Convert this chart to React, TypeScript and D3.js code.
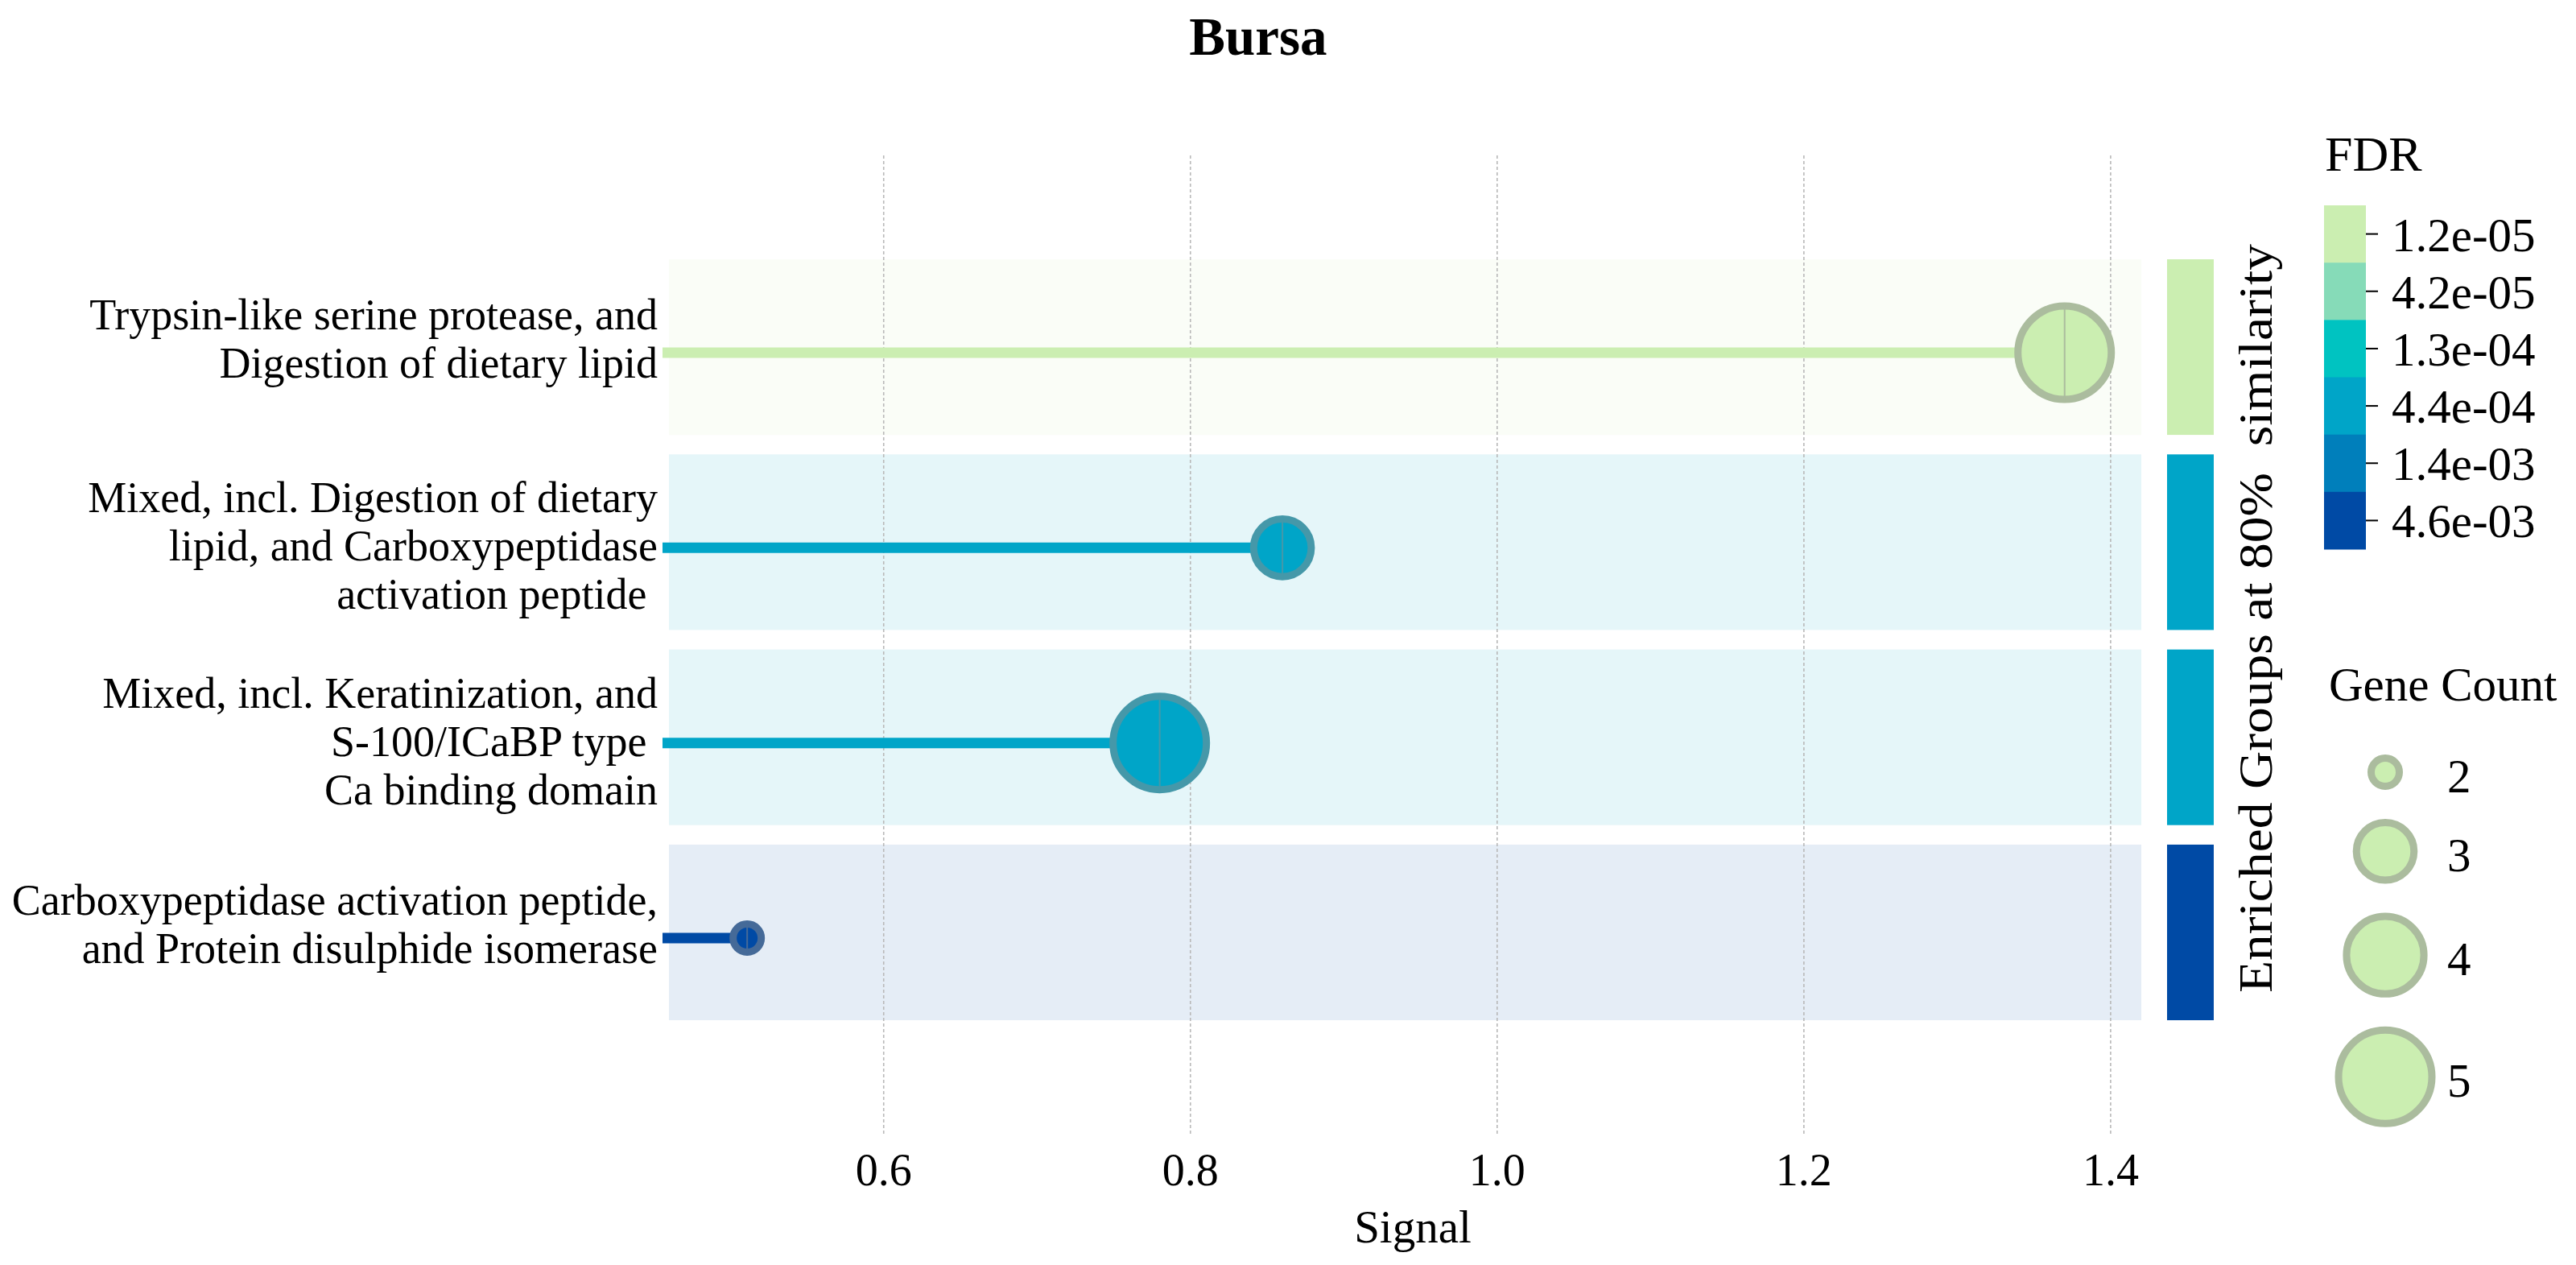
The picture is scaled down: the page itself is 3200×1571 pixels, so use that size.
import React from "react";
import * as d3 from "d3";

// ---- data ----
const labelLines: string[][] = [
  ["Trypsin-like serine protease, and", "Digestion of dietary lipid"],
  ["Mixed, incl. Digestion of dietary", "lipid, and Carboxypeptidase", "activation peptide "],
  ["Mixed, incl. Keratinization, and", "S-100/ICaBP type ", "Ca binding domain"],
  ["Carboxypeptidase activation peptide,", "and Protein disulphide isomerase"],
];
const signal = [1.37, 0.86, 0.78, 0.511];
const geneCount = [5, 3, 5, 2];
const fdrGroup = ["1.2e-05", "4.4e-04", "4.4e-04", "4.6e-03"];

const fdrTicks = ["1.2e-05", "4.2e-05", "1.3e-04", "4.4e-04", "1.4e-03", "4.6e-03"];
const fdrColors = ["#cbeeb1", "#86dbb8", "#00c3c1", "#00a5c8", "#007fbb", "#004aa5"];
const xTicks = [0.6, 0.8, 1.0, 1.2, 1.4];
const sizeLegend = [2, 3, 4, 5];

const title = "Bursa";
const xTitle = "Signal";
const sideTitle = "Enriched Groups at 80%  similarity";

const FONT = "'Liberation Serif', 'Times New Roman', Times, serif";

export default function App() {
  const W = 3200, H = 1571;
  const x = d3.scaleLinear().domain([0.46, 1.42]).range([831, 2660]);
  const y = d3.scaleBand<number>().domain(d3.range(labelLines.length)).range([322, 1267]).paddingInner(0.1).paddingOuter(0);
  const color = d3.scaleOrdinal<string, string>(fdrTicks, fdrColors);
  const rArea = d3.scaleLinear().domain([2, 5]).range([22 * 22, 62.5 * 62.5]);
  const SW = 9;
  const rOuter = (n: number) => Math.sqrt(rArea(n));
  const ring = (c: string) => d3.interpolateRgb(c, "#8a8a8a")(0.5);
  const fmt = d3.format(".1f");
  const yC = d3.scaleBand<string>().domain(fdrTicks).range([255, 682]);

  const stemY = (i: number) => (y(i) as number) + y.bandwidth() / 2 + 7;
  const gridTop = 193, gridBottom = 1408;

  // legend circle centers
  const legendCenters: number[] = [];
  let acc = 959;
  sizeLegend.forEach((n, i) => {
    if (i === 0) acc = 959;
    else acc = acc + rOuter(sizeLegend[i - 1]) + 36 + rOuter(n);
    legendCenters.push(acc);
  });

  return (
    <svg width={W} height={H} style={{ position: "absolute", left: 0, top: 0, background: "#fff" }} fontFamily={FONT}>
      <rect x={0} y={0} width={W} height={H} fill="#fff" />
      {/* title */}
      <text x={1563} y={68} textAnchor="middle" fontSize={67} fontWeight="bold" fill="#000">{title}</text>

      {/* row backgrounds */}
      {labelLines.map((_, i) => (
        <rect key={"bg" + i} x={x.range()[0]} y={y(i)} width={x.range()[1] - x.range()[0]} height={y.bandwidth()}
          fill={color(fdrGroup[i])} fillOpacity={0.1} />
      ))}

      {/* gridlines */}
      {xTicks.map((t) => (
        <line key={"g" + t} x1={x(t)} x2={x(t)} y1={gridTop} y2={gridBottom} stroke="#b9b9b9" strokeWidth={1.6} strokeDasharray="4,3" />
      ))}

      {/* stems */}
      {signal.map((s, i) => (
        <line key={"s" + i} x1={x.range()[0] - 8} x2={x(s)} y1={stemY(i)} y2={stemY(i)} stroke={color(fdrGroup[i])} strokeWidth={13} />
      ))}

      {/* circles */}
      {signal.map((s, i) => {
        const ro = rOuter(geneCount[i]);
        const c = color(fdrGroup[i]);
        return (
          <g key={"c" + i}>
            <circle cx={x(s)} cy={stemY(i)} r={ro - SW / 2} fill={c} stroke={ring(c)} strokeWidth={SW} />
            <line x1={x(s)} x2={x(s)} y1={stemY(i) - ro + 2} y2={stemY(i) + ro - 2} stroke={ring(c)} strokeWidth={2} />
          </g>
        );
      })}

      {/* row labels */}
      {labelLines.map((lines, i) => {
        const n = lines.length;
        const shift = n === 2 ? 18 : 3;
        return lines.map((ln, j) => (
          <text key={"l" + i + "_" + j} x={817} y={stemY(i) + 19 + (j - (n - 1) / 2) * 60 - shift}
            textAnchor="end" fontSize={54} fill="#000" style={{ whiteSpace: "pre" }}>{ln}</text>
        ));
      })}

      {/* x tick labels */}
      {xTicks.map((t) => (
        <text key={"t" + t} x={x(t)} y={1472} textAnchor="middle" fontSize={56} fill="#000">{fmt(t)}</text>
      ))}
      <text x={1755} y={1543} textAnchor="middle" fontSize={57} fill="#000">{xTitle}</text>

      {/* side group bars */}
      {labelLines.map((_, i) => (
        <rect key={"sb" + i} x={2692} y={y(i)} width={58} height={y.bandwidth()} fill={color(fdrGroup[i])} />
      ))}
      <text transform={`translate(2822, 768) rotate(-90)`} textAnchor="middle" fontSize={60} fill="#000"
        textLength={930} lengthAdjust="spacingAndGlyphs" style={{ whiteSpace: "pre" }}>{sideTitle}</text>

      {/* FDR colorbar */}
      <text x={2888} y={212} fontSize={62} fill="#000">FDR</text>
      {fdrTicks.map((t) => (
        <g key={"cb" + t}>
          <rect x={2887} y={yC(t)} width={52} height={yC.bandwidth() + 0.5} fill={color(t)} />
          <line x1={2939} x2={2954} y1={(yC(t) as number) + yC.bandwidth() / 2} y2={(yC(t) as number) + yC.bandwidth() / 2} stroke="#000" strokeWidth={2} />
          <text x={2971} y={(yC(t) as number) + yC.bandwidth() / 2 + 21} fontSize={59} fill="#000">{t}</text>
        </g>
      ))}

      {/* Gene count legend */}
      <text x={2893} y={870} fontSize={59} fill="#000">Gene Count</text>
      {sizeLegend.map((n, i) => {
        const ro = rOuter(n);
        const c = fdrColors[0];
        return (
          <g key={"sl" + n}>
            <circle cx={2963} cy={legendCenters[i]} r={ro - SW / 2} fill={c} stroke={ring(c)} strokeWidth={SW} />
            <text x={3040} y={legendCenters[i] + 25} fontSize={59} fill="#000">{n}</text>
          </g>
        );
      })}
    </svg>
  );
}
